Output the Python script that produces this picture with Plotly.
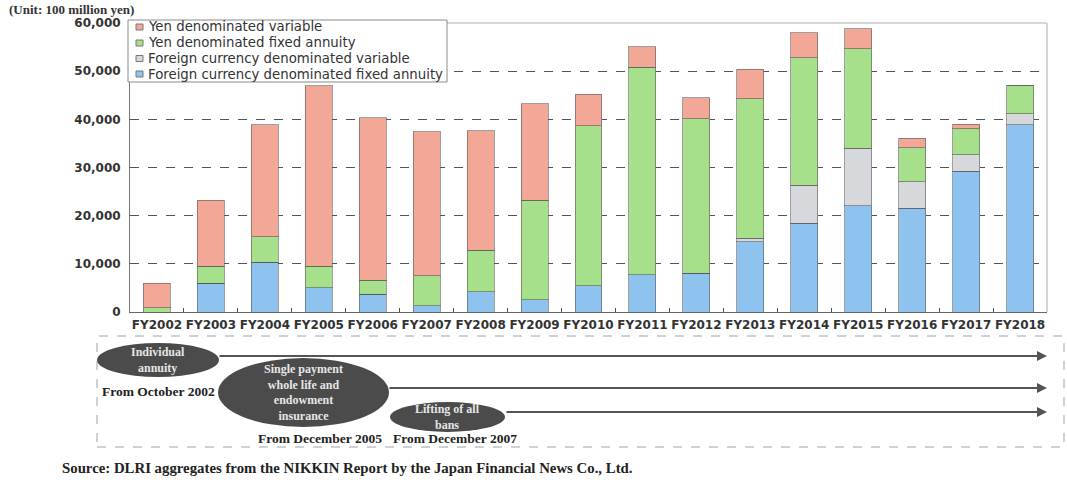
import plotly.graph_objects as go

# Annual sales of individual annuity products (unit: 100 million yen)
categories = ["FY2002", "FY2003", "FY2004", "FY2005", "FY2006", "FY2007", "FY2008",
              "FY2009", "FY2010", "FY2011", "FY2012", "FY2013", "FY2014", "FY2015",
              "FY2016", "FY2017", "FY2018"]
foreign_fixed = [0, 6000, 10300, 5000, 3700, 1300, 4200, 2500, 5400, 7700, 8000,
                 14600, 18400, 22100, 21500, 29200, 38900]
foreign_variable = [0, 0, 0, 0, 0, 0, 0, 0, 0, 0, 0, 700, 7900, 11900, 5500, 3400, 2300]
yen_fixed = [900, 3450, 5350, 4450, 2900, 6200, 8600, 20700, 33300, 43100, 32100,
             29000, 26500, 20700, 7100, 5400, 5900]
yen_variable = [5100, 13800, 23200, 37500, 33700, 29900, 24800, 20000, 6550, 4300,
                4350, 6050, 5200, 4150, 2000, 1000, 0]

series_names = ["Yen denominated variable", "Yen denominated fixed annuity",
                "Foreign currency denominated variable",
                "Foreign currency denominated fixed annuity"]
y_ticks = [0, 10000, 20000, 30000, 40000, 50000, 60000]

COL_RED = "#f3a797"
COL_GREEN = "#a6e08a"
COL_GREY = "#d7d8db"
COL_BLUE = "#8ec3ef"

W, H = 1067, 483
L, R, T, B = 130, 20, 23, 171
PW, PH = W - L - R, H - T - B


def px(x):
    return (x - L) / PW


def py(y):
    return (H - B - y) / PH


fig = go.Figure()
stack = [(foreign_fixed, series_names[3], COL_BLUE),
         (foreign_variable, series_names[2], COL_GREY),
         (yen_fixed, series_names[1], COL_GREEN),
         (yen_variable, series_names[0], COL_RED)]
for vals, name, col in stack:
    fig.add_trace(go.Bar(x=categories, y=vals, name=name, showlegend=False,
                         marker=dict(color=col, line=dict(color="rgba(80,80,80,0.55)", width=1))))

sans = "DejaVu Sans"
serif = "Liberation Serif"

fig.update_layout(
    width=W, height=H,
    margin=dict(l=L, r=R, t=T, b=B),
    barmode="stack", bargap=0.5,
    plot_bgcolor="white", paper_bgcolor="white",
    xaxis=dict(showline=True, linecolor="#666", linewidth=1, tickangle=0,
               ticks="inside", tickson="boundaries", ticklen=4, tickcolor="#555",
               ticklabelstandoff=2,
               tickfont=dict(family=sans, size=12, color="#333", weight="bold"),
               showgrid=False),
    yaxis=dict(range=[0, 60000], tickvals=y_ticks, tickformat=",",
               showline=True, linecolor="#777", linewidth=1,
               showgrid=True, gridcolor="#555", griddash="dash", gridwidth=1,
               zeroline=False, ticks="", ticklabelstandoff=6,
               tickfont=dict(family=sans, size=12, color="#333", weight="bold")),
)

shapes = []
ann = []

# light frame on the top and right of the plot area
shapes.append(dict(type="line", xref="paper", yref="paper", x0=0, x1=1, y0=1, y1=1,
                   line=dict(color="#c9c9c9", width=1.5), layer="above"))
shapes.append(dict(type="line", xref="paper", yref="paper", x0=1, x1=1, y0=0, y1=1,
                   line=dict(color="#c9c9c9", width=1.5), layer="above"))

# legend box
shapes.append(dict(type="rect", xref="paper", yref="paper",
                   x0=px(128), x1=px(447), y0=py(82), y1=py(20),
                   fillcolor="white", line=dict(color="#8a8a8a", width=1), layer="above"))
leg_colors = [COL_RED, COL_GREEN, COL_GREY, COL_BLUE]
leg_rows = [27, 43, 58.5, 74]
for name, col, yr in zip(series_names, leg_colors, leg_rows):
    shapes.append(dict(type="rect", xref="paper", yref="paper",
                       x0=px(136), x1=px(143), y0=py(yr + 3), y1=py(yr - 3),
                       fillcolor=col, line=dict(color="#777", width=1), layer="above"))
    ann.append(dict(text=name, xref="paper", yref="paper", x=px(146), y=py(yr),
                    xanchor="left", yanchor="middle", showarrow=False,
                    font=dict(family=sans, size=13.3, color="#333")))

# unit label
ann.append(dict(text="(Unit: 100 million yen)", xref="paper", yref="paper",
                x=px(7), y=py(9.5), xanchor="left", yanchor="middle", showarrow=False,
                font=dict(family=serif, size=13, color="#333", weight="bold")))

# timeline panel
shapes.append(dict(type="rect", xref="paper", yref="paper",
                   x0=px(97), x1=px(1064), y0=py(447), y1=py(336),
                   line=dict(color="#9aa3b0", width=1, dash="dash")))

arrows = [(218, 356), (388, 388), (505, 412)]
for x0, yv in arrows:
    ann.append(dict(text="", xref="paper", yref="paper", x=px(1047), y=py(yv),
                    ax=-(1047 - x0), ay=0, showarrow=True, arrowhead=2,
                    arrowsize=1, arrowwidth=2, arrowcolor="#555"))

ellipses = [((97, 219, 343, 377), "Individual<br>annuity"),
            ((218, 389, 358, 427), "Single payment<br>whole life and<br>endowment<br>insurance"),
            ((390, 505, 402, 432), "Lifting of all<br>bans")]
for (x0, x1, y0, y1), txt in ellipses:
    shapes.append(dict(type="circle", xref="paper", yref="paper",
                       x0=px(x0), x1=px(x1), y0=py(y1), y1=py(y0),
                       fillcolor="#4b4b4b", line=dict(width=0), layer="above"))
    ann.append(dict(text=txt, xref="paper", yref="paper",
                    x=px((x0 + x1) / 2), y=py((y0 + y1) / 2),
                    xanchor="center", yanchor="middle", showarrow=False,
                    font=dict(family=serif, size=12, color="#e6e6e6", weight="bold")))

dates = [(158, 391, "From October 2002"), (320, 438, "From December 2005"),
         (455, 438, "From December 2007")]
for xc, yv, txt in dates:
    ann.append(dict(text=txt, xref="paper", yref="paper", x=px(xc), y=py(yv),
                    xanchor="center", yanchor="middle", showarrow=False,
                    font=dict(family=serif, size=13.5, color="#222", weight="bold")))

ann.append(dict(text="Source: DLRI aggregates from the NIKKIN Report by the Japan Financial News Co., Ltd.",
                xref="paper", yref="paper", x=px(60), y=py(468),
                xanchor="left", yanchor="middle", showarrow=False,
                font=dict(family=serif, size=14.8, color="#222", weight="bold")))

fig.update_layout(shapes=shapes, annotations=ann)
fig.write_html("out.html")
